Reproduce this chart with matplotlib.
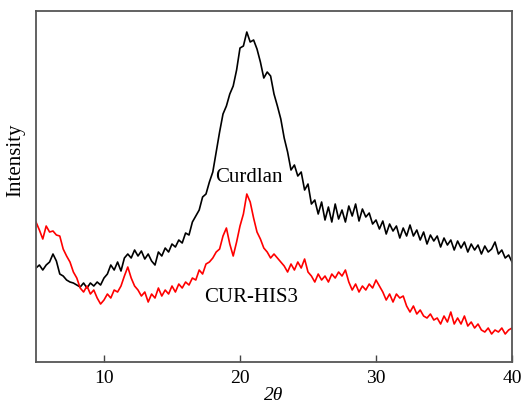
import numpy as np
import matplotlib
matplotlib.use("Agg")
import matplotlib.pyplot as plt

# 2-theta grid (degrees), readings every 0.25 deg
two_theta = np.arange(5.0, 40.001, 0.25)

# Curdlan intensity (arbitrary units)
curdlan = [
    94, 97, 92, 97, 100, 108, 101, 88,
    86, 82, 80, 79, 77, 75, 79, 74,
    79, 76, 80, 77, 84, 88, 97, 92,
    100, 91, 104, 108, 104, 112, 106, 111,
    103, 108, 101, 97, 110, 106, 114, 110,
    118, 115, 122, 119, 129, 127, 140, 146,
    152, 165, 168, 180, 190, 210, 230, 248,
    256, 268, 276, 292, 314, 316, 330, 320,
    322, 313, 300, 284, 290, 286, 268, 256,
    243, 224, 210, 192, 197, 186, 190, 172,
    178, 158, 162, 148, 160, 142, 155, 140,
    158, 143, 152, 140, 156, 146, 158, 141,
    153, 145, 149, 138, 142, 133, 141, 128,
    138, 131, 136, 124, 134, 126, 137, 126,
    132, 122, 130, 118, 127, 121, 126, 115,
    124, 117, 122, 112, 121, 114, 120, 110,
    118, 112, 117, 108, 116, 110, 113, 120,
    108, 112, 104, 107, 100,
]

# CUR-HIS3 intensity
cur_his3 = [
    140, 132, 123, 136, 130, 131, 127, 126,
    113, 106, 100, 90, 84, 74, 70, 76,
    68, 72, 64, 58, 62, 68, 64, 72,
    70, 76, 86, 95, 84, 76, 72, 66,
    70, 60, 68, 64, 74, 66, 72, 68,
    76, 70, 78, 74, 80, 77, 84, 82,
    92, 88, 98, 100, 104, 110, 113, 126,
    134, 118, 106, 120, 136, 148, 168, 160,
    144, 130, 123, 114, 110, 104, 108, 104,
    100, 96, 90, 98, 92, 100, 94, 103,
    90, 86, 80, 88, 82, 86, 80, 88,
    84, 90, 86, 92, 80, 72, 78, 70,
    76, 72, 78, 74, 82, 76, 70, 62,
    68, 60, 68, 64, 66, 56, 50, 56,
    48, 52, 46, 44, 48, 42, 44, 38,
    46, 40, 50, 38, 44, 38, 46, 36,
    40, 34, 38, 32, 30, 34, 28, 32,
    30, 34, 28, 32, 34,
]

x_ticks = [10, 20, 30, 40]

plt.rcParams['font.family'] = ['Liberation Serif', 'DejaVu Serif']

fig = plt.figure(figsize=(5.23, 4.10), dpi=100)
ax = fig.add_axes([0.0688, 0.1146, 0.9102, 0.8561])

ax.plot(two_theta, curdlan, color='black', lw=1.2)
ax.plot(two_theta, cur_his3, color='#ff0000', lw=1.2)

ax.set_xlim(5, 40)
ax.set_ylim(0, 351)
ax.set_xticks(x_ticks)
ax.set_yticks([])
ax.tick_params(axis='x', direction='in', length=5, width=1, labelsize=14,
               colors='#444444', labelcolor='black', pad=5)
for sp in ax.spines.values():
    sp.set_color('#555555')
    sp.set_linewidth(1.3)

ax.set_xlabel('2θ', fontsize=14, style='italic', labelpad=0)
ax.set_ylabel('Intensity', fontsize=15)
ax.yaxis.set_label_coords(-0.022, 0.578)

ax.text(20.65, 186, 'Curdlan', fontsize=15, ha='center', va='center')
ax.text(20.85, 66, 'CUR-HIS3', fontsize=15, ha='center', va='center')

fig.savefig('out.png', dpi=100)
